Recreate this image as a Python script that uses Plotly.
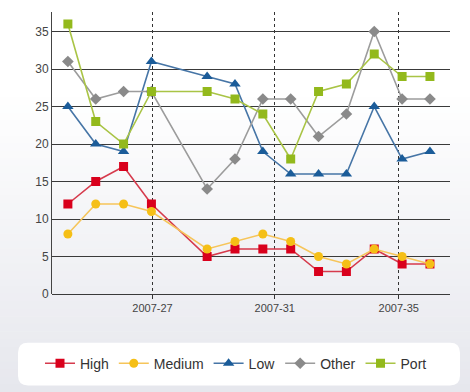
import plotly.graph_objects as go

# Data positions (index 4 has no observation)
x_pos = [0, 1, 2, 3, 5, 6, 7, 8, 9, 10, 11, 12, 13]
high = [12, 15, 17, 12, 5, 6, 6, 6, 3, 3, 6, 4, 4]
medium = [8, 12, 12, 11, 6, 7, 8, 7, 5, 4, 6, 5, 4]
low = [25, 20, 19, 31, 29, 28, 19, 16, 16, 16, 25, 18, 19]
other = [31, 26, 27, 27, 14, 18, 26, 26, 21, 24, 35, 26, 26]
port = [36, 23, 20, 27, 27, 26, 24, 18, 27, 28, 32, 29, 29]
tick_pos = [3.04, 7.43, 11.88]
tick_labels = ["2007-27", "2007-31", "2007-35"]

series = [
    ("High", high, "#d9001c", "#d63a4c", "square", 9),
    ("Medium", medium, "#f5bf16", "#f6c55a", "circle", 9),
    ("Low", low, "#1b5c99", "#4675a6", "triangle-up", 10),
    ("Other", other, "#8a8a8a", "#9c9c9c", "diamond", 9),
    ("Port", port, "#93b91c", "#a9c445", "square", 9),
]

fig = go.Figure()
for name, vals, mc, lc, sym, sz in series:
    fig.add_trace(go.Scatter(
        x=x_pos, y=vals, name=name, mode="lines+markers",
        line=dict(color=lc, width=1.6),
        marker=dict(color=mc, symbol=sym, size=sz),
    ))

# plot area in px: x 52..450, y 12..294.3
def px_to_paper_x(px):
    return (px - 52) / 398.0

def py_to_paper_y(py):
    return (294.3 - py) / 282.3

shapes = []
# background gradient bands
n = 40
top_py, bot_py = 90, 392
c0 = (255, 255, 255)
c1 = (230, 231, 237)
for i in range(n):
    y0p = top_py + (bot_py - top_py) * i / n
    y1p = top_py + (bot_py - top_py) * (i + 1) / n
    t = (i + 0.5) / n
    col = tuple(round(c0[k] + (c1[k] - c0[k]) * t) for k in range(3))
    shapes.append(dict(
        type="rect", xref="paper", yref="paper", layer="below",
        x0=px_to_paper_x(-2), x1=px_to_paper_x(472),
        y0=py_to_paper_y(y1p + 0.5), y1=py_to_paper_y(y0p),
        fillcolor="rgb(%d,%d,%d)" % col, line=dict(width=0),
    ))

# rounded legend box
lx0, lx1, ly0, ly1, r = 18, 460, 343, 386, 10
def P(px, py):
    return "%f,%f" % (px_to_paper_x(px), py_to_paper_y(py))
path = ("M " + P(lx0 + r, ly0) + " L " + P(lx1 - r, ly0) +
        " Q " + P(lx1, ly0) + " " + P(lx1, ly0 + r) +
        " L " + P(lx1, ly1 - r) + " Q " + P(lx1, ly1) + " " + P(lx1 - r, ly1) +
        " L " + P(lx0 + r, ly1) + " Q " + P(lx0, ly1) + " " + P(lx0, ly1 - r) +
        " L " + P(lx0, ly0 + r) + " Q " + P(lx0, ly0) + " " + P(lx0 + r, ly0) + " Z")
shapes.append(dict(type="path", xref="paper", yref="paper", path=path,
                   fillcolor="white", line=dict(width=0), layer="below"))

fig.update_layout(
    width=470, height=392,
    margin=dict(l=52, r=20, t=12, b=98),
    paper_bgcolor="white",
    plot_bgcolor="rgba(0,0,0,0)",
    font=dict(family="Liberation Sans, Arial, sans-serif", color="#444444", size=12),
    shapes=shapes,
    showlegend=True,
    legend=dict(
        orientation="h", x=px_to_paper_x(236), xanchor="center",
        y=py_to_paper_y(364), yanchor="middle",
        bgcolor="rgba(0,0,0,0)", font=dict(size=14, color="#333333"),
        itemwidth=30, tracegroupgap=0,
    ),
    xaxis=dict(
        range=[-0.57, 13.72], tickvals=tick_pos, ticktext=tick_labels,
        showgrid=True, gridcolor="#333333", gridwidth=1, griddash="3px,3px",
        showline=False, zeroline=False, ticks="outside", ticklen=4,
        tickcolor="#333333", tickfont=dict(size=11, color="#444444"),
    ),
    yaxis=dict(
        range=[0, 37.6], tickvals=[0, 5, 10, 15, 20, 25, 30, 35],
        showgrid=True, gridcolor="#3a3a3a", gridwidth=1,
        showline=True, linecolor="#444444", linewidth=1,
        zeroline=True, zerolinecolor="#3a3a3a", zerolinewidth=1,
        ticks="", tickfont=dict(size=12, color="#444444"),
    ),
)

fig.write_html("out.html")
